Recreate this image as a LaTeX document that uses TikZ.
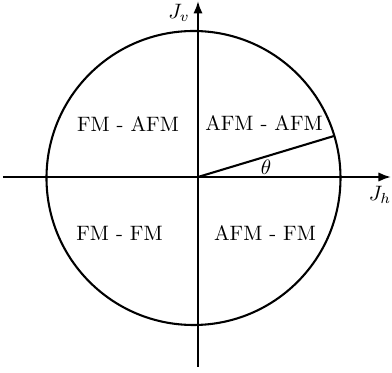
\documentclass[tikz,border=0pt]{standalone}
\usetikzlibrary{arrows.meta}
\begin{document}
\begin{tikzpicture}[x=0.48pt,y=-0.48pt,
  axis/.style={line width=1pt,-{Latex[length=6pt,width=4.5pt]}},
  ln/.style={line width=1pt},
  lbl/.style={inner sep=0pt}]
\useasboundingbox (0,0) rectangle (392,373);
\coordinate (O) at (198,177);
\coordinate (xl) at (3,177);
\coordinate (xr) at (391,177);
\coordinate (yb) at (198,367);
\coordinate (yt) at (198,1);
\coordinate (P) at (334,136);
\draw[axis] (xl) -- (xr);
\draw[axis] (yb) -- (yt);
\draw[ln] (193.5,178) circle[radius=147];
\draw[ln] (O) -- (P);
\node[lbl] (th) at (266,167) {$\theta$};
\node[lbl] (jv) at (179,13) {$J_v$};
\node[lbl] (jh) at (380,195) {$J_h$};
\node[lbl] (q2) at (128,124) {FM - AFM};
\node[lbl] (q1) at (264,123) {AFM - AFM};
\node[lbl] (q3) at (119.5,233) {FM - FM};
\node[lbl] (q4) at (265,233) {AFM - FM};
\end{tikzpicture}
\end{document}
